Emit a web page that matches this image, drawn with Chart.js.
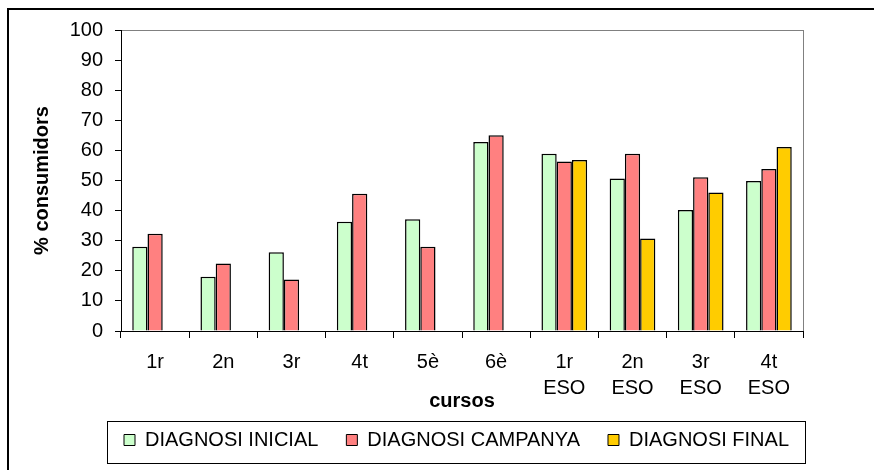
<!DOCTYPE html>
<html>
<head>
<meta charset="utf-8">
<script src="https://cdn.jsdelivr.net/npm/chart.js@4/dist/chart.umd.min.js"></script>
<style>
html,body{margin:0;padding:0;background:#fff;}
#wrap{width:874px;height:470px;position:relative;}
</style>
</head>
<body>
<div id="wrap"><canvas id="c" width="874" height="470"></canvas></div>
<script>
const categories = [["1r"], ["2n"], ["3r"], ["4t"], ["5è"], ["6è"], ["1r","ESO"], ["2n","ESO"], ["3r","ESO"], ["4t","ESO"]];
const seriesNames = ["DIAGNOSI INICIAL", "DIAGNOSI CAMPANYA", "DIAGNOSI FINAL"];
const diagnosiInicial = [28, 18, 26.2, 36.3, 37.1, 62.8, 58.9, 50.7, 40.2, 49.8];
const diagnosiCampanya = [32.3, 22.4, 17.1, 45.6, 28, 65, 56.3, 58.9, 51.1, 53.8];
const diagnosiFinal = [null, null, null, null, null, null, 56.8, 30.7, 46, 61.1];
const yTicks = [0, 10, 20, 30, 40, 50, 60, 70, 80, 90, 100];

const FONT = "'Liberation Sans', Arial, sans-serif";
const LEGEND_PAD = 28;
const LEGEND_START = 124;

const framePlugin = {
  id: 'frame',
  afterLayout(chart) {
    const lg = chart.legend;
    if (!lg || !lg.lineWidths) return;
    const start = (lg.left + LEGEND_PAD + lg.right - lg.lineWidths[0]) / 2;
    const d = LEGEND_START - start;
    lg.left += d;
    lg.right += d;
  },
  beforeDraw(chart) {
    const ctx = chart.ctx;
    ctx.save();
    ctx.fillStyle = '#fff';
    ctx.fillRect(0, 0, chart.width, chart.height);
    ctx.strokeStyle = '#000';
    ctx.lineWidth = 2;
    ctx.beginPath();
    ctx.moveTo(8, chart.height);
    ctx.lineTo(8, 9);
    ctx.lineTo(chart.width, 9);
    ctx.stroke();
    const a = chart.chartArea;
    ctx.strokeStyle = '#808080';
    ctx.lineWidth = 1;
    ctx.strokeRect(Math.round(a.left) + 0.5, Math.round(a.top) + 0.5, Math.round(a.right - a.left), Math.round(a.bottom - a.top));
    ctx.restore();
  },
  afterDraw(chart) {
    const lg = chart.legend;
    if (!lg || !lg.lineWidths) return;
    const ctx = chart.ctx;
    const cy = lg.top + LEGEND_PAD + 12;
    const l = LEGEND_START - 17;
    const r = LEGEND_START + lg.lineWidths[0] - LEGEND_PAD + 16;
    ctx.save();
    ctx.strokeStyle = '#000';
    ctx.lineWidth = 1;
    ctx.strokeRect(Math.round(l) + 0.5, Math.round(cy - 21) + 0.5, Math.round(r - l), 42);
    ctx.restore();
  }
};

new Chart(document.getElementById('c'), {
  type: 'bar',
  data: {
    labels: categories,
    datasets: [
      { label: seriesNames[0], data: diagnosiInicial, backgroundColor: '#CCFFCC', borderColor: '#000', borderWidth: 1.5 },
      { label: seriesNames[1], data: diagnosiCampanya, backgroundColor: '#FF8080', borderColor: '#000', borderWidth: 1.5 },
      { label: seriesNames[2], data: diagnosiFinal, backgroundColor: '#FFCC00', borderColor: '#000', borderWidth: 1.5 }
    ]
  },
  options: {
    responsive: false,
    animation: false,
    devicePixelRatio: 1,
    layout: { padding: { left: 0, right: 71, top: 30, bottom: 10 } },
    datasets: { bar: { categoryPercentage: 0.67, barPercentage: 1 } },
    scales: {
      x: {
        grid: { offset: true, drawOnChartArea: false, drawTicks: true, tickLength: 7, color: '#000', lineWidth: 1 },
        border: { display: true, color: '#000', width: 1 },
        ticks: { color: '#000', font: { family: FONT, size: 20, lineHeight: 1.3 }, padding: 11, maxRotation: 0, autoSkip: false },
        title: { display: true, text: 'cursos', color: '#000', font: { family: FONT, size: 20, weight: 'bold', lineHeight: '2px' }, padding: 0 },
        afterFit(scale) { scale.height = 71; }
      },
      y: {
        min: 0, max: 100,
        afterBuildTicks(scale) { scale.ticks = yTicks.map(v => ({ value: v })); },
        grid: { drawOnChartArea: false, drawTicks: true, tickLength: 6, color: '#000' },
        border: { display: true, color: '#000', width: 1 },
        ticks: { color: '#000', font: { family: FONT, size: 20 }, padding: 12 },
        title: { display: true, text: '% consumidors', color: '#000', font: { family: FONT, size: 20, weight: 'bold' }, padding: { top: 30, bottom: 0 } },
        afterFit(scale) { scale.width = 121; }
      }
    },
    plugins: {
      legend: {
        position: 'bottom',
        labels: {
          color: '#000',
          font: { family: FONT, size: 20 },
          boxWidth: 11, boxHeight: 11,
          padding: LEGEND_PAD,
          generateLabels(chart) {
            return chart.data.datasets.map((ds, i) => ({
              text: ds.label, fillStyle: ds.backgroundColor, strokeStyle: '#000', lineWidth: 1,
              hidden: false, datasetIndex: i, fontColor: '#000'
            }));
          }
        }
      },
      tooltip: { enabled: false }
    }
  },
  plugins: [framePlugin]
});
</script>
</body>
</html>
